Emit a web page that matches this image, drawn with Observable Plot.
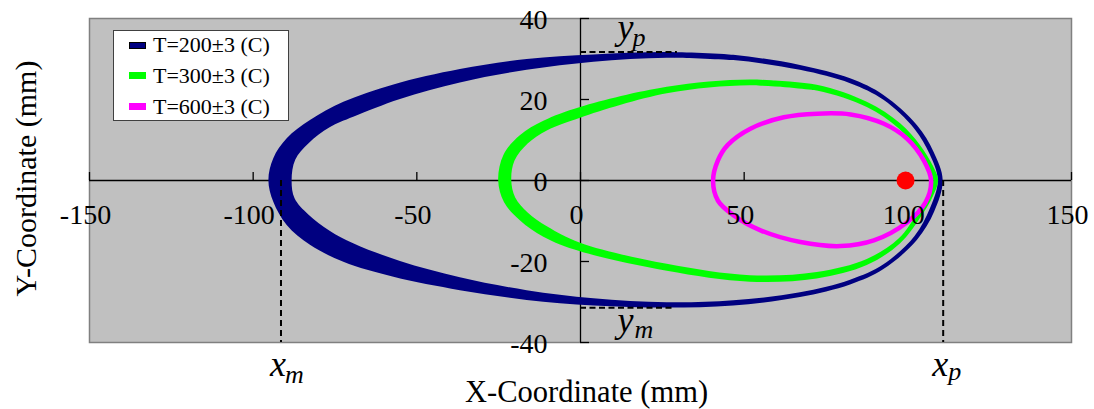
<!DOCTYPE html>
<html><head><meta charset="utf-8">
<script src="https://cdn.jsdelivr.net/npm/d3@7"></script>
<script src="https://cdn.jsdelivr.net/npm/@observablehq/plot@0.6"></script>
<style>
body{margin:0;background:#fff;}
#wrap{position:relative;width:1094px;height:409px;font-family:"Liberation Serif","Times New Roman",serif;}
#legend{position:absolute;left:113px;top:30px;width:176px;height:91px;background:#fff;border:1px solid #404040;box-sizing:border-box;}
.sw{position:absolute;left:15px;width:17px;height:7px;box-sizing:border-box;}
.lt{position:absolute;left:39px;font-size:22px;line-height:24px;white-space:nowrap;color:#000;}
</style></head>
<body><div id="wrap"></div>
<script>
// ---- data ----
const seriesLabels = ["T=200±3 (C)", "T=300±3 (C)", "T=600±3 (C)"];
const seriesColors = ["#000080", "#00ff00", "#ff00ff"];
const xTicks = [-150, -100, -50, 0, 50, 100, 150];
const yTicks = [-40, -20, 0, 20, 40];

// T=200 band: outer and inner edges (mm)
const blueOuter = [[26.5,31.6],[46.8,30.9],[67.2,28.4],[82.5,25.1],[92.7,21.0],[102.9,13.6],[108.0,7.0],[110.8,0],
  [108.2,-7.8],[102.9,-14.8],[92.7,-22.0],[82.5,-25.8],[67.2,-28.9],[46.8,-31.0],[26.5,-31.5],[4.1,-31.0],
  [-16.3,-29.6],[-36.7,-27.2],[-57.0,-23.9],[-72.3,-20.2],[-82.5,-16.0],[-89.6,-11.1],[-93.7,-5.4],[-95.2,0],
  [-93.7,5.4],[-89.6,10.3],[-82.5,14.8],[-72.3,19.3],[-57.0,23.6],[-36.7,27.4],[-16.3,29.9],[4.1,31.0],
  [26.5,31.6],[46.8,30.9]];
const blueInner = [[26.5,30.2],[46.8,29.6],[67.2,27.2],[82.5,23.9],[92.7,19.8],[102.2,12.6],[106.8,6.4],[109.3,0],
  [106.9,-7.0],[102.2,-13.8],[92.7,-20.8],[82.5,-24.6],[67.2,-27.7],[46.8,-29.7],[26.5,-30.2],[4.1,-29.2],
  [-16.3,-27.2],[-36.7,-24.0],[-55.0,-20.0],[-69.3,-15.6],[-76.5,-12.5],[-83.0,-8.5],[-87.2,-4.5],[-88.1,0],
  [-87.0,5.0],[-83.0,9.0],[-76.5,13.0],[-69.3,15.6],[-55.0,20.0],[-36.7,24.1],[-16.3,27.2],[4.1,29.2],
  [26.5,30.2],[46.8,29.6]];

// T=300 band
const greenOuter = [[51.9,24.8],[72.3,23.5],[87.6,19.3],[97.8,14.0],[103.9,8.6],[107.8,3.5],[109.4,0],
  [107.8,-4.0],[103.9,-9.3],[97.8,-15.6],[87.6,-21.0],[72.3,-24.3],[51.9,-25.1],[26.5,-22.4],
  [0,-17.6],[-11.2,-14.0],[-18.3,-10.0],[-23.2,-5.5],[-25.0,0],[-23.4,6.2],[-18.3,11.1],[-11.2,14.6],
  [0,18.0],[26.5,23.0],[51.9,24.8],[72.3,23.5]];
const greenInner = [[51.9,23.4],[72.3,22.1],[87.6,18.0],[97.4,12.7],[103.0,7.6],[106.4,3.1],[107.9,0],
  [106.4,-3.5],[103.0,-8.3],[97.4,-14.4],[87.6,-19.5],[72.3,-22.7],[51.9,-23.5],[26.5,-20.7],
  [0,-15.5],[-10.0,-11.5],[-16.0,-8.0],[-19.8,-4.3],[-21.0,0],[-20.0,4.8],[-16.0,9.0],[-10.0,12.3],
  [0,15.4],[26.5,21.4],[51.9,23.4],[72.3,22.1]];

// T=600 orbit (centre line)
const magentaPath = [[72.3,16.5],[82.5,16.3],[92.7,14.0],[99.8,10.3],[104.9,4.9],[107.1,0],[105.4,-5.4],
  [99.8,-10.3],[89.6,-14.8],[79.4,-16.2],[67.2,-15.2],[55.0,-12.3],[46.8,-8.6],[42.0,-5.0],[40.5,0],
  [42.0,5.0],[45.0,8.8],[51.9,12.8],[62.1,15.6]];

const focus = [[99.3, 0]];
const xmVal = -91.5, xpVal = 110.8, ypVal = 31.7, ymVal = -31.4;
const ypEnd = 29.6, ymEnd = 29.0;

// ---- build ----
const band = (outer, inner) => outer.map((p, i) => ({x1: p[0], y1: p[1], x2: inner[i][0], y2: inner[i][1]}));
const serif = "'Liberation Serif','Times New Roman',serif";
const ital = {lineAnchor: "bottom", textAnchor: "start", fontStyle: "italic", fill: "#000"};
const symbol = (x, y, main, sub, dxM, dyM, dxS, dyS) => [
  Plot.text([main], {x: () => x, y: () => y, text: d => d, dx: dxM, dy: dyM, fontSize: 36, ...ital}),
  Plot.text([sub], {x: () => x, y: () => y, text: d => d, dx: dxS, dy: dyS, fontSize: 26, ...ital})
];

const plot = Plot.plot({
  width: 1094, height: 409,
  marginLeft: 89, marginRight: 23, marginTop: 18, marginBottom: 67,
  x: {domain: [-150, 150], axis: null},
  y: {domain: [-40, 40], axis: null},
  style: {fontFamily: serif, background: "transparent", overflow: "visible"},
  marks: [
    Plot.frame({fill: "#c0c0c0", stroke: "#808080", strokeWidth: 1.5}),
    Plot.ruleY([0], {stroke: "#000", strokeWidth: 1.3}),
    Plot.ruleX([0], {stroke: "#000", strokeWidth: 1.3}),
    Plot.ruleX(xTicks, {x: d => d, y1: 0, y2: 0, insetTop: -8, stroke: "#000", strokeWidth: 1.3}),
    Plot.ruleY(yTicks, {y: d => d, x1: 0, x2: 0, insetRight: -9, stroke: "#000", strokeWidth: 1.3}),
    Plot.area(band(blueOuter, blueInner), {x1: "x1", y1: "y1", x2: "x2", y2: "y2", fill: seriesColors[0], curve: "catmull-rom"}),
    Plot.area(band(greenOuter, greenInner), {x1: "x1", y1: "y1", x2: "x2", y2: "y2", fill: seriesColors[1], curve: "catmull-rom"}),
    Plot.line(magentaPath, {x: d => d[0], y: d => d[1], stroke: seriesColors[2], strokeWidth: 4.5, curve: "catmull-rom-closed"}),
    // dashed guides
    Plot.ruleX([xmVal, xpVal], {x: d => d, y1: 0, y2: -40, stroke: "#000", strokeWidth: 2, strokeDasharray: "6,4"}),
    Plot.ruleY([[ypVal, ypEnd], [ymVal, ymEnd]], {y: d => d[0], x1: 0, x2: d => d[1], stroke: "#000", strokeWidth: 2, strokeDasharray: "6,3.5"}),
    Plot.dot(focus, {x: d => d[0], y: d => d[1], r: 9, fill: "#ff0000", stroke: null}),
    // tick labels
    Plot.text(xTicks, {x: d => d, y: 0, text: d => String(d), dy: 35, dx: -4, fontSize: 28, fill: "#000"}),
    Plot.text(yTicks, {x: 0, y: d => d, text: d => String(d), dx: -33, dy: 2, textAnchor: "end", fontSize: 28, fill: "#000"}),
    // guide labels
    ...symbol(xmVal, -40, "x", "m", -11, 33, 4, 40),
    ...symbol(xpVal, -40, "x", "p", -11, 33, 5, 37),
    ...symbol(0, ypVal, "y", "p", 37, -13.5, 52, -6.5),
    ...symbol(0, ymVal, "y", "m", 37, 24, 54, 30),
    // axis titles
    Plot.text(["X-Coordinate (mm)"], {frameAnchor: "bottom", text: d => d, dy: 50, dx: 6, lineAnchor: "middle", textAnchor: "middle", fontSize: 30.5, fill: "#000"}),
    Plot.text(["Y-Coordinate (mm)"], {frameAnchor: "left", text: d => d, dx: -63, dy: -2, rotate: -90, lineAnchor: "middle", textAnchor: "middle", fontSize: 30, fill: "#000"})
  ]
});

const wrap = document.getElementById("wrap");
wrap.appendChild(plot);

// legend
const leg = document.createElement("div");
leg.id = "legend";
seriesLabels.forEach((lab, i) => {
  const cy = 14 + i * 30.75;
  const sw = document.createElement("div");
  sw.className = "sw";
  sw.style.top = (cy - 3.5) + "px";
  sw.style.background = seriesColors[i];
  if (i === 0) sw.style.border = "1px solid #000";
  leg.appendChild(sw);
  const t = document.createElement("div");
  t.className = "lt";
  t.style.top = (cy - 12) + "px";
  t.textContent = lab;
  leg.appendChild(t);
});
wrap.appendChild(leg);
</script>
</body></html>
